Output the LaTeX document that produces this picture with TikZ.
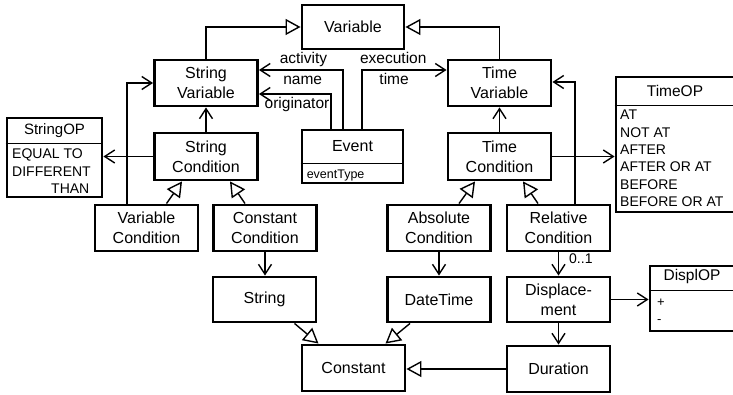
\documentclass[tikz,border=0pt]{standalone}
\usepackage{fontspec}
\setmainfont{Liberation Sans}
\usetikzlibrary{arrows.meta}

\begin{document}
\begin{tikzpicture}[x=1pt,y=-1pt,
    box/.style={draw,line width=2.9pt,minimum width=103pt,minimum height=46pt,inner sep=0pt,
      align=center,font=\fontsize{16}{20}\selectfont},
    assoc/.style={line width=1.4pt,-{Straight Barb[length=10pt,width=13pt,line width=1.4pt]}},
    gen/.style={line width=1.4pt,-{Triangle[open,length=15pt,width=16pt,line width=1.4pt,fill=white]}},
    lbl/.style={font=\fontsize{15.5}{18}\selectfont,inner sep=2.5pt,text height=11pt,text depth=3pt},
    items/.style={font=\fontsize{14}{17.3}\selectfont,align=left,inner sep=0pt,anchor=north west}]
  \useasboundingbox (0,0) rectangle (733,395);
  % classes
  \node[box,minimum width=102pt,minimum height=44pt] (var) at (353,27) {Variable};
  \node[box] (strvar) at (206,83) {String\\Variable};
  \node[box,minimum height=47pt] (strcond) at (206,156.5) {String\\Condition};
  \node[box] (timevar) at (499.5,83) {Time\\Variable};
  \node[box,minimum height=47pt] (timecond) at (499.5,156.5) {Time\\Condition};
  \node[box] (varcond) at (146.5,228) {Variable\\Condition};
  \node[box] (constcond) at (265,228) {Constant\\Condition};
  \node[box] (abscond) at (439,228) {Absolute\\Condition};
  \node[box] (relcond) at (558.5,228) {Relative\\Condition};
  \node[box,minimum height=45pt] (string) at (264.5,299.5) {String};
  \node[box,minimum height=45pt] (datetime) at (439,299.5) {DateTime};
  \node[box,minimum height=45pt] (displ) at (558.5,299.5) {Displace-\\ment};
  \node[box] (constant) at (353.5,368) {Constant};
  \node[box] (duration) at (558.5,369) {Duration};
  % Event with its attribute
  \node[box,minimum width=101pt,minimum height=53pt] (event) at (352.5,156.5) {};
  \node[font=\fontsize{16}{20}\selectfont] (eventname) at ([yshift=-18pt]event.north) {Event};
  \node[anchor=west,font=\fontsize{12.5}{15}\selectfont,inner sep=0pt] (eventattr) at ([xshift=6pt,yshift=9pt]event.south west) {eventType};
  \draw[line width=1pt] ([yshift=-35pt]event.north west) -- ([yshift=-35pt]event.north east);
  % operator enumerations
  \node[box,minimum width=95pt,minimum height=79pt] (strop) at (54.5,157.5) {};
  \node[font=\fontsize{15}{18}\selectfont] (stropname) at ([yshift=-14pt]strop.north) {StringOP};
  \node[items] (stropvals) at (12,149) {EQUAL TO\\DIFFERENT\\\hspace*{39pt}THAN};
  \draw[line width=1pt] ([yshift=-27pt]strop.north west) -- ([yshift=-27pt]strop.north east);
  \node[box,minimum width=118pt,minimum height=135pt] (timeop) at (675,144.5) {};
  \node[font=\fontsize{15.5}{18}\selectfont] (timeopname) at ([yshift=-15pt]timeop.north) {TimeOP};
  \node[items] (timeopvals) at (620,110) {AT\\NOT AT\\AFTER\\AFTER OR AT\\BEFORE\\BEFORE OR AT};
  \draw[line width=1pt] ([yshift=-30pt]timeop.north west) -- ([yshift=-30pt]timeop.north east);
  \node[box,minimum width=84pt,minimum height=65pt] (displop) at (692,298.5) {};
  \node[font=\fontsize{15.5}{18}\selectfont] (displopname) at ([yshift=-12pt]displop.north) {DisplOP};
  \node[items,font=\fontsize{13}{17}\selectfont] (displopvals) at (657,299) {+\\-};
  \draw[line width=1pt] ([yshift=-26pt]displop.north west) -- ([yshift=-26pt]displop.north east);
  % generalisations
  \draw[gen] (strvar.north) |- (var.west);
  \draw[gen] (timevar.north) |- (var.east);
  \draw[gen] ([xshift=20pt]varcond.north) -- ([xshift=-24pt]strcond.south);
  \draw[gen] ([xshift=-20pt]constcond.north) -- ([xshift=24pt]strcond.south);
  \draw[gen] ([xshift=20pt]abscond.north) -- ([xshift=-24.5pt]timecond.south);
  \draw[gen] ([xshift=-20.5pt]relcond.north) -- ([xshift=23.5pt]timecond.south);
  \draw[gen] ([xshift=30pt]string.south) -- ([xshift=-35pt]constant.north);
  \draw[gen] ([xshift=-29pt]datetime.south) -- ([xshift=32pt]constant.north);
  \draw[gen] (duration.west) -- (duration.west -| constant.east);
  % associations of Event
  \draw[assoc] ([xshift=-9.5pt]event.north) |- ([yshift=13pt]strvar.east)
    node[lbl,pos=0.735,above] {activity} node[lbl,pos=0.74,below] {name};
  \draw[assoc] ([xshift=-21.5pt]event.north) |- ([yshift=-11pt]strvar.east)
    node[lbl,pos=0.736,below] {originator};
  \draw[assoc] ([xshift=9.5pt]event.north) |- ([yshift=13pt]timevar.west)
    node[lbl,pos=0.685,above] {execution} node[lbl,pos=0.69,below] {time};
  % other associations
  \draw[assoc] (strcond.north) -- (strvar.south);
  \draw[assoc] (strcond.west) -- (strcond.west -| strop.east);
  \draw[assoc] ([xshift=-19.5pt]varcond.north) |- (strvar.west);
  \draw[assoc] (constcond.south) -- (constcond.south |- string.north);
  \draw[assoc] (timecond.north) -- (timevar.south);
  \draw[assoc] (timecond.east) -- (timecond.east -| timeop.west);
  \draw[assoc] ([xshift=16.5pt]relcond.north) |- ([yshift=1pt]timevar.east);
  \draw[assoc] (abscond.south) -- (datetime.north);
  \draw[assoc] (relcond.south) -- (displ.north)
    node[pos=0.27,anchor=west,xshift=10pt,font=\fontsize{14}{17}\selectfont,inner sep=0pt] {0..1};
  \draw[assoc] (displ.east) -- (displ.east -| displop.west);
  \draw[assoc] (displ.south) -- (duration.north);
\end{tikzpicture}
\end{document}
